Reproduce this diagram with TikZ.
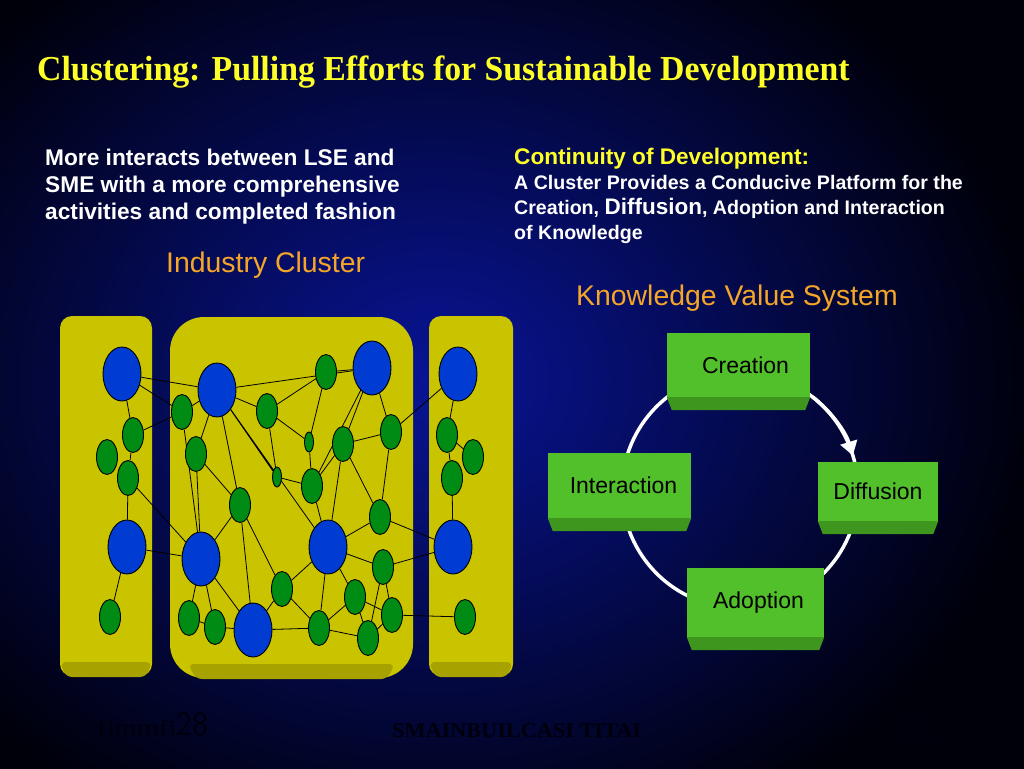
\documentclass[tikz,border=0pt]{standalone}
\usepackage{fontspec}
\setmainfont{Liberation Sans}
\newfontfamily\titlefont{Liberation Serif}
\usetikzlibrary{shapes.geometric,calc,arrows.meta}
\pgfdeclarelayer{back}
\pgfdeclarelayer{edges}
\pgfsetlayers{back,edges,main}
\definecolor{bgin}{RGB}{8,20,150}
\definecolor{bgout}{RGB}{0,0,10}
\definecolor{ttl}{RGB}{255,255,40}
\definecolor{orng}{RGB}{245,165,40}
\definecolor{ybox}{RGB}{202,196,0}
\definecolor{ybev}{RGB}{168,162,0}
\definecolor{gnode}{RGB}{0,140,20}
\definecolor{bnode}{RGB}{0,60,210}
\definecolor{kgreen}{RGB}{82,192,42}
\definecolor{kbev}{RGB}{62,150,30}
\definecolor{foot}{RGB}{0,0,12}
\tikzset{
  gn/.style={ellipse, draw=black, line width=0.9pt, fill=gnode, minimum width=21pt, minimum height=35pt, inner sep=0pt},
  sn/.style={ellipse, draw=black, line width=0.9pt, fill=gnode, minimum width=9pt, minimum height=20pt, inner sep=0pt},
  bn/.style={ellipse, draw=black, line width=0.9pt, fill=bnode, minimum width=38pt, minimum height=54pt, inner sep=0pt},
  link/.style={draw=black, line width=0.8pt},
  kbox/.style={rectangle, fill=kgreen, inner sep=0pt, font=\fontsize{23}{27}\selectfont, text=black},
  ring/.style={draw=white, line width=3.5pt},
  wtxt/.style={anchor=base west, inner sep=0pt, text=white, font=\bfseries\fontsize{22.7}{27}\selectfont},
  ytxt/.style={anchor=base west, inner sep=0pt, text=ttl, font=\bfseries\fontsize{22.6}{27}\selectfont},
  stxt/.style={anchor=base west, inner sep=0pt, text=white, font=\bfseries\fontsize{19.6}{25}\selectfont},
  otxt/.style={anchor=base west, inner sep=0pt, text=orng, font=\fontsize{28.4}{32}\selectfont},
}
\begin{document}
\begin{tikzpicture}[x=1pt,y=-1pt]
\useasboundingbox (0,0) rectangle (1024,768);
\begin{pgfonlayer}{back}
\shade[inner color=bgin, outer color=bgout] (-170,-120) rectangle (1040,880);
% yellow cluster boxes
\fill[ybox, rounded corners=12pt] (60,316) rectangle (152,676);
\fill[ybev, rounded corners=6pt] (60,662) -- (152,662) -- (146,677) -- (66,677) -- cycle;
\fill[ybox, rounded corners=34pt] (170,317) rectangle (413,678);
\fill[ybev, rounded corners=6pt] (188,664) -- (395,664) -- (387,679) -- (196,679) -- cycle;
\fill[ybox, rounded corners=12pt] (429,316) rectangle (513,676);
\fill[ybev, rounded corners=6pt] (429,662) -- (513,662) -- (507,677) -- (435,677) -- cycle;
\end{pgfonlayer}

% title
\node[anchor=base west, inner sep=0pt, text=ttl, font=\titlefont\bfseries\fontsize{35}{40}\selectfont] (title) at (37,81) {\scalebox{0.965}[1]{Clustering: Pulling Efforts for Sustainable Development}};

% left text
\node[wtxt] (lt1) at (45,165) {More interacts between LSE and};
\node[wtxt] (lt2) at (45,192) {SME with a more comprehensive};
\node[wtxt] (lt3) at (45,219) {activities and completed fashion};
\node[otxt] (ic) at (166,272) {Industry Cluster};

% right text
\node[ytxt] (rt0) at (514,164) {Continuity of Development:};
\node[stxt] (rt1) at (514,189) {A Cluster Provides a Conducive Platform for the};
\node[stxt] (rt2) at (514,214) {Creation, {\fontsize{22.5}{25}\selectfont Diffusion}, Adoption and Interaction};
\node[stxt] (rt3) at (514,239) {of Knowledge};
\node[otxt] (kvs) at (576,305) {Knowledge Value System};

% ---- cluster network nodes ----
% left
\node[bn] (L1) at (122,374) {};
\node[gn] (L2) at (133,435) {};
\node[gn] (L3) at (107,457) {};
\node[gn] (L4) at (128,478) {};
\node[bn] (L5) at (127,547) {};
\node[gn] (L6) at (110,617) {};
% middle
\node[bn] (A) at (217,390) {};
\node[gn] (a1) at (182,412) {};
\node[gn] (a2) at (267,411) {};
\node[gn] (a3) at (326,372) {};
\node[bn] (B) at (372,368) {};
\node[sn] (s1) at (309,442) {};
\node[gn] (a4) at (343,444) {};
\node[gn] (a5) at (391,432) {};
\node[gn] (a6) at (196,454) {};
\node[sn] (s2) at (277,477) {};
\node[gn] (a7) at (312,486) {};
\node[gn] (a8) at (240,505) {};
\node[gn] (a9) at (380,517) {};
\node[bn] (C) at (201,559) {};
\node[bn] (D) at (328,547) {};
\node[gn] (a10) at (383,567) {};
\node[gn] (a11) at (282,589) {};
\node[gn] (a12) at (355,597) {};
\node[gn] (a13) at (392,615) {};
\node[gn] (a14) at (189,618) {};
\node[gn] (a15) at (215,627) {};
\node[bn] (E) at (253,630) {};
\node[gn] (a16) at (319,628) {};
\node[gn] (a17) at (368,638) {};
% right
\node[bn] (R1) at (458,374) {};
\node[gn] (R2) at (447,435) {};
\node[gn] (R3) at (473,457) {};
\node[gn] (R4) at (452,478) {};
\node[bn] (R5) at (453,547) {};
\node[gn] (R6) at (465,617) {};

\begin{pgfonlayer}{edges}
\draw[link] (L1)--(A) (L1)--(a1) (L1)--(L2) (L2)--(a1) (L2)--(L4) (L4)--(L5) (L4)--(C) (L5)--(C) (L5)--(L6);
\draw[link] (A)--(B) (A)--(a1) (A)--(a2) (A)--(a6) (A)--(a8) (A)--(D) (A)--(s2);
\draw[link] (a1)--(C) (a6)--(C) (a6)--(a8) (a2)--(a3) (a2)--(s1) (a2)--(s2) (a3)--(B) (a3)--(s1) (s1)--(a7);
\draw[link] (B)--(a7) (B)--(a4) (B)--(a5) (a4)--(a5) (a4)--(a7) (a4)--(D) (a4)--(a9) (a5)--(R1) (a5)--(a9);
\draw[link] (s2)--(a7) (a7)--(D) (a8)--(C) (a8)--(E) (a8)--(a11) (a9)--(D) (a9)--(R5);
\draw[link] (D)--(a10) (D)--(a11) (D)--(a16) (D)--(a12) (a10)--(R5) (a10)--(a17) (a10)--(a13);
\draw[link] (a12)--(a13) (a12)--(a16) (a12)--(a17) (a13)--(R6) (a13)--(a17) (a16)--(a17) (a11)--(a16);
\draw[link] (E)--(a16) (E)--(a11) (C)--(a14) (C)--(a15) (C)--(E) (a14)--(a15) (a15)--(E);
\draw[link] (R1)--(R2) (R2)--(R3) (R2)--(R4) (R4)--(R5);
\end{pgfonlayer}

% ---- knowledge value system ----
\coordinate (kc) at (740,490);
\draw[ring] (kc) circle[radius=118];
\draw[ring, -{Triangle[length=14pt,width=17pt]}] ($(kc)+(-52:118)$) arc[start angle=-52, end angle=-17, radius=118];

\node[kbox, minimum width=143pt, minimum height=64pt] (cre) at (738.5,365) {\hspace*{14pt}Creation};
\node[kbox, minimum width=143pt, minimum height=65pt] (int) at (619.5,485.5) {\hspace*{8pt}Interaction};
\node[kbox, minimum width=120pt, minimum height=59pt] (dif) at (878,491.5) {Diffusion};
\node[kbox, minimum width=137pt, minimum height=69pt] (ado) at (755.5,602.5) {\hspace*{6pt}Adoption};
\foreach \b in {cre,int,dif,ado}{
  \fill[kbev] (\b.south west) -- (\b.south east) -- ($(\b.south east)+(-5,13)$) -- ($(\b.south west)+(5,13)$) -- cycle;
}

% footer (barely visible)
\node[anchor=base west, inner sep=0pt, text=foot, font=\titlefont\fontsize{22}{24}\selectfont] (f1) at (97,735) {\scalebox{1.3}[1]{fimmfi}{\fontsize{34}{36}\selectfont\sffamily 28}};
\node[anchor=base west, inner sep=0pt, text=foot, font=\titlefont\bfseries\fontsize{21}{22}\selectfont] (f2) at (392,737) {\scalebox{1.06}[1]{SMAINBUILCASI TITAI}};
\node[anchor=base east, inner sep=0pt, text=foot, font=\fontsize{40}{42}\selectfont] (f3) at (935,742) {11};
\end{tikzpicture}
\end{document}
